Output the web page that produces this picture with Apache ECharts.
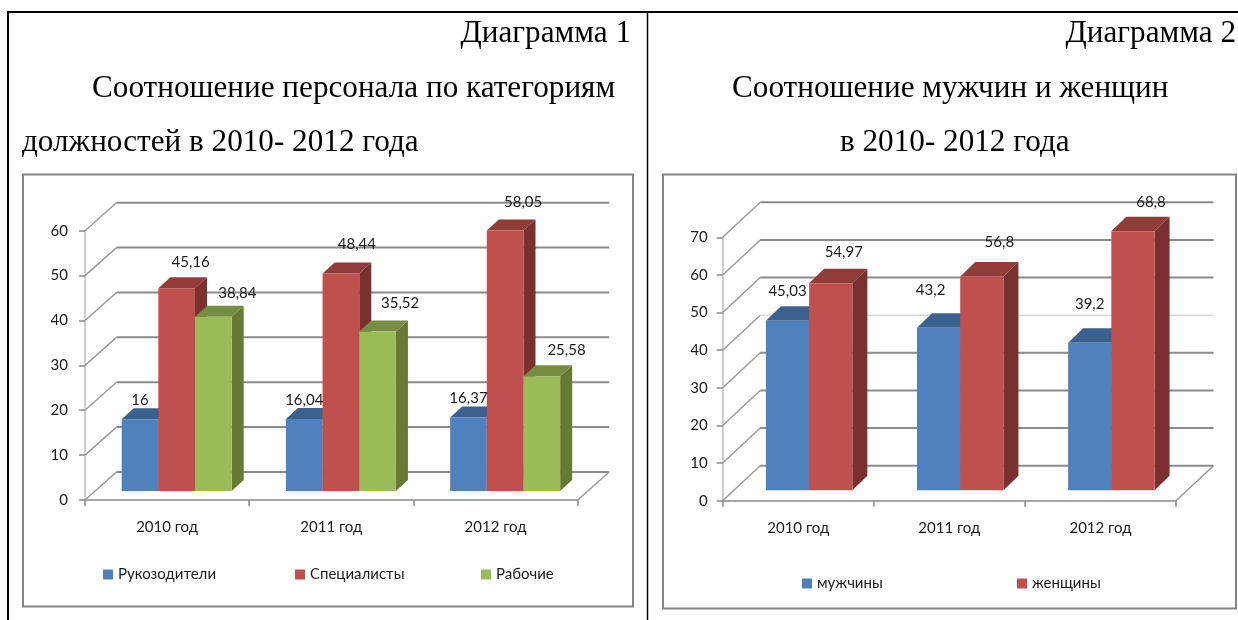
<!DOCTYPE html>
<html><head><meta charset="utf-8">
<style>html,body{margin:0;padding:0;background:#fff}#c{width:1238px;height:620px}</style>
<script src="https://cdn.jsdelivr.net/npm/echarts@6/dist/echarts.min.js"></script>
</head><body><div id="c"></div>
<script>
const years = ['2010 год', '2011 год', '2012 год'];
const managers = [16, 16.04, 16.37];
const specialists = [45.16, 48.44, 58.05];
const workers = [38.84, 35.52, 25.58];
const men = [45.03, 43.2, 39.2];
const women = [54.97, 56.8, 68.8];
const ticksA = [0, 10, 20, 30, 40, 50, 60];
const ticksB = [0, 10, 20, 30, 40, 50, 60, 70];

const BLUE = {front:'#4F81BD', top:'#3B618E', side:'#385D8A'};
const RED = {front:'#C0504D', top:'#903C39', side:'#7A302E'};
const GREEN = {front:'#9BBB59', top:'#758D43', side:'#667A35'};
const FONT = '15px Lato';
const AX = {
  0:{wall:[31.5,-28], base:9,  depth:[12,-11],   barFrac:0.2233},
  1:{wall:[37.5,-35], base:10.5,depth:[15,-14.5], barFrac:0.286}
};
function fmt(v){ return String(v).replace('.', ','); }

function wallSeries(grid, ticks, lightTick){
  const c = AX[grid];
  return {
    type:'custom', xAxisIndex:grid, yAxisIndex:grid, z:1, silent:true,
    data:ticks.map(t=>[0,t]),
    renderItem(p, api){
      const y = api.coord([0, api.value(1)])[1];
      const x0 = p.coordSys.x, x1 = x0 + p.coordSys.width;
      const [dx, dy] = c.wall;
      const light = api.value(1) === lightTick;
      const kids = [
        {type:'line', shape:{x1:x0,y1:y,x2:x0+dx,y2:y+dy}, style:{stroke:'#9a9a9a',lineWidth:1.5}},
        {type:'line', shape:{x1:x0+dx,y1:y+dy,x2:x1+dx,y2:y+dy},
         style:{stroke:light?'#c4c4c4':'#8a8a8a',lineWidth:light?1:2}}
      ];
      if (api.value(1) === 0) kids.push({type:'line', shape:{x1:x1,y1:y,x2:x1+dx,y2:y+dy}, style:{stroke:'#9a9a9a',lineWidth:1.5}});
      return {type:'group', children:kids};
    }
  };
}
function barSeries(grid, name, values, idx, col){
  const c = AX[grid];
  return {
    type:'custom', name, xAxisIndex:grid, yAxisIndex:grid, z:3+idx, silent:true,
    itemStyle:{color:col.front},
    data:values.map((v,i)=>[i,v]),
    renderItem(p, api){
      const i = api.value(0), v = api.value(1);
      const band = api.size([1,0])[0], w = band*c.barFrac;
      const start = api.coord([i,0])[0]-band/2;
      const xl = start+(idx+1)*w, xr = xl+w;
      const yb = api.coord([i,0])[1]-c.base, yt = api.coord([i,v])[1]-c.base;
      const [dx,dy] = c.depth;
      const poly = (pts,fill)=>({type:'polygon',shape:{points:pts},style:{fill}});
      return {type:'group',children:[
        poly([[xl,yt],[xl+dx,yt+dy],[xr+dx,yt+dy],[xr,yt]],col.top),
        poly([[xr,yt],[xr+dx,yt+dy],[xr+dx,yb+dy],[xr,yb]],col.side),
        poly([[xl,yt],[xr,yt],[xr,yb],[xl,yb]],col.front)
      ]};
    }
  };
}
function labelSeries(grid, values, idx, nudges){
  const c = AX[grid];
  return {
    type:'custom', xAxisIndex:grid, yAxisIndex:grid, z:10, silent:true,
    data:values.map((v,i)=>[i,v]),
    renderItem(p, api){
      const i = api.value(0), v = api.value(1);
      const band = api.size([1,0])[0], w = band*c.barFrac;
      const start = api.coord([i,0])[0]-band/2;
      const cx = start+(idx+1.5)*w, yt = api.coord([i,v])[1]-c.base;
      const n = nudges[i];
      return {type:'text',style:{text:fmt(v),x:cx+n[0],y:yt+n[1]+1,align:'center',verticalAlign:'middle',fill:'#1a1a1a',font:FONT}};
    }
  };
}
function xAxis(grid){
  return {type:'category',gridIndex:grid,data:years,boundaryGap:true,
    axisLine:{show:true,lineStyle:{color:'#a6a6a6',width:2}},
    axisTick:{show:true,length:6,alignWithLabel:false,lineStyle:{color:'#8a8a8a',width:1.5}},
    axisLabel:{margin:20,color:'#1a1a1a',fontFamily:'Lato',fontSize:15},
    splitLine:{show:false}};
}
function yAxis(grid,max,margin){
  return {type:'value',gridIndex:grid,min:0,max,interval:10,
    axisLine:{show:true,lineStyle:{color:'#cfcfcf',width:2}},
    axisTick:{show:true,length:6,lineStyle:{color:'#8a8a8a',width:1.5}},
    axisLabel:{margin,color:'#1a1a1a',fontFamily:'Lato',fontSize:15},
    splitLine:{show:false}};
}
function legendItem(name,x,y){
  return {data:[name],left:x,top:y-7,padding:0,itemWidth:10,itemHeight:10,itemGap:0,itemTextGap:4,
    selectedMode:false,icon:'rect',
    textStyle:{color:'#1a1a1a',fontFamily:'Lato',fontSize:15}};
}
const SERIF = {fontFamily:'Liberation Serif',fontSize:31.2,fontWeight:'normal',color:'#000'};
function title(text,pos){ return Object.assign({text,padding:0,textStyle:SERIF},pos); }

const option = {
  animation:false, backgroundColor:'#fff',
  title:[
    title('Диаграмма 1',{right:607,top:18}),
    title('Соотношение персонала по категориям',{left:92,top:73}),
    title('должностей в 2010- 2012 года',{left:22,top:127}),
    title('Диаграмма 2',{right:2,top:18}),
    title('Соотношение мужчин и женщин',{left:732,top:73}),
    title('в 2010- 2012 года',{left:840,top:127})
  ],
  grid:[
    {left:85,top:230.7,width:492.7,height:269.3},
    {left:722.7,top:237.3,width:453.3,height:263.4}
  ],
  xAxis:[xAxis(0),xAxis(1)],
  yAxis:[yAxis(0,60,17),yAxis(1,70,15)],
  legend:[
    legendItem('Рукозодители',103,574),
    legendItem('Специалисты',295,574),
    legendItem('Рабочие',481,574),
    legendItem('мужчины',802,583),
    legendItem('женщины',1017,583)
  ],
  graphic:[
    {type:'line',silent:true,z:-1,shape:{x1:7,y1:12,x2:1238,y2:12},style:{stroke:'#000',lineWidth:2}},
    {type:'line',silent:true,z:-1,shape:{x1:8,y1:11,x2:8,y2:620},style:{stroke:'#000',lineWidth:2}},
    {type:'line',silent:true,z:-1,shape:{x1:647.5,y1:12,x2:647.5,y2:620},style:{stroke:'#000',lineWidth:1.5}},
    {type:'rect',silent:true,z:-1,shape:{x:23,y:174.5,width:610,height:432},style:{fill:'#fff',stroke:'#868686',lineWidth:2}},
    {type:'rect',silent:true,z:-1,shape:{x:663,y:174.5,width:573,height:434},style:{fill:'#fff',stroke:'#868686',lineWidth:2}}
  ],
  series:[
    wallSeries(0,ticksA,null),
    barSeries(0,'Рукозодители',managers,0,BLUE),
    barSeries(0,'Специалисты',specialists,1,RED),
    barSeries(0,'Рабочие',workers,2,GREEN),
    labelSeries(0,managers,0,[[0,-20],[0,-20],[0,-20]]),
    labelSeries(0,specialists,1,[[14,-27],[16,-30],[18,-29]]),
    labelSeries(0,workers,2,[[24,-25],[22.5,-29],[24.7,-27.5]]),
    wallSeries(1,ticksB,40),
    barSeries(1,'мужчины',men,0,BLUE),
    barSeries(1,'женщины',women,1,RED),
    labelSeries(1,men,0,[[0,-31],[-8,-38],[0,-39.6]]),
    labelSeries(1,women,1,[[13,-32],[17.5,-35.7],[18,-29.7]])
  ]
};
echarts.init(document.getElementById('c'),null,{renderer:'canvas'}).setOption(option);
</script></body></html>
